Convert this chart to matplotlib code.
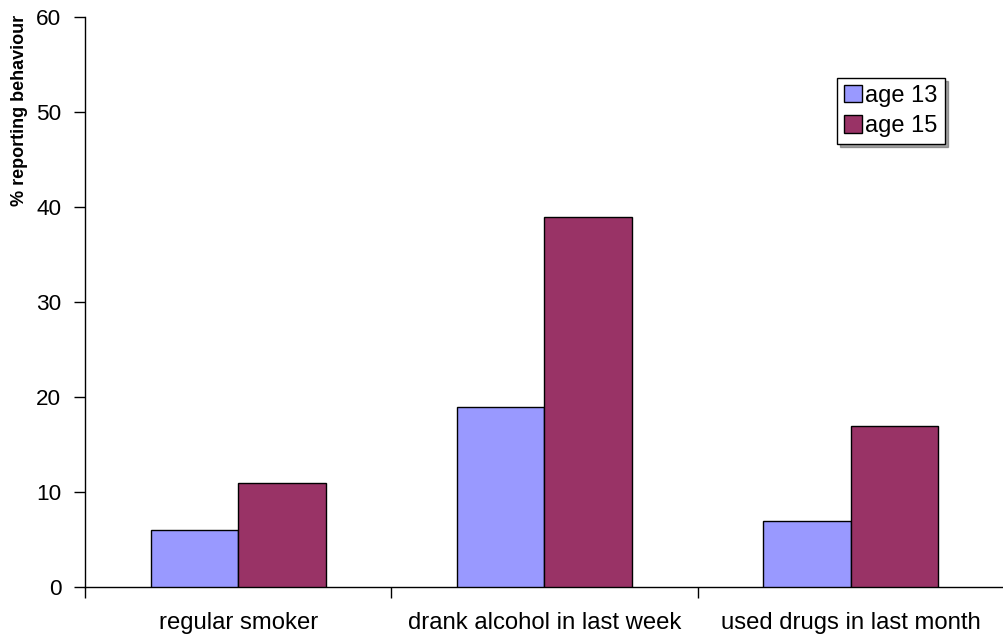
import matplotlib
matplotlib.use("Agg")
import matplotlib.pyplot as plt
import numpy as np

categories = ["regular smoker", "drank alcohol in last week", "used drugs in last month"]
age13 = [6, 19, 7]
age15 = [11, 39, 17]
series_names = ["age 13", "age 15"]
yticks = [0, 10, 20, 30, 40, 50, 60]

plt.rcParams['font.family'] = ['Liberation Sans', 'DejaVu Sans']

fig = plt.figure(figsize=(10.04, 6.39), dpi=100)
W, H = 1004, 639
ax = fig.add_axes([85 / W, 1 - 587 / H, (1004 - 85) / W, (587 - 17) / H])

x = np.arange(len(categories))
w = 0.286
ax.bar(x - w / 2, age13, w, color="#9999FF", edgecolor="black", linewidth=1, label=series_names[0], zorder=3)
ax.bar(x + w / 2, age15, w, color="#993366", edgecolor="black", linewidth=1, label=series_names[1], zorder=3)

ax.set_ylim(0, 60)
ax.set_xlim(-0.5, 2.5 - 5 / 308)
ax.set_yticks(yticks)
ax.set_yticklabels([str(t) for t in yticks], fontsize=16.2)
ax.set_xticks([-0.5, 0.5, 1.5, 2.5])
ax.set_xticklabels([])
ax.set_xticks(x, minor=True)
ax.set_xticklabels(categories, minor=True, fontsize=17.2)
ax.tick_params(axis='x', which='minor', length=0, pad=18)
ax.tick_params(axis='x', which='major', length=8, direction='out', width=1)
ax.tick_params(axis='y', length=8, direction='out', width=1, pad=9)

for s in ['top', 'right']:
    ax.spines[s].set_visible(False)
ax.spines['left'].set_linewidth(1)
ax.spines['bottom'].set_linewidth(1)

fig.text(20 / W, 1 - 110 / H, "% reporting behaviour", rotation=90, fontsize=13,
         fontweight='bold', ha='center', va='center')

leg = ax.legend(loc='upper left', bbox_to_anchor=((837 - 85) / (1004 - 85), 1 - (78 - 17) / 570),
                fontsize=17, frameon=True, fancybox=False, shadow=True,
                handlelength=0.75, handleheight=0.75, handletextpad=0.15, borderpad=0.3,
                labelspacing=0.35, borderaxespad=0)
leg.get_frame().set_edgecolor('black')
leg.get_frame().set_linewidth(1)

fig.savefig("out.png", dpi=100)
